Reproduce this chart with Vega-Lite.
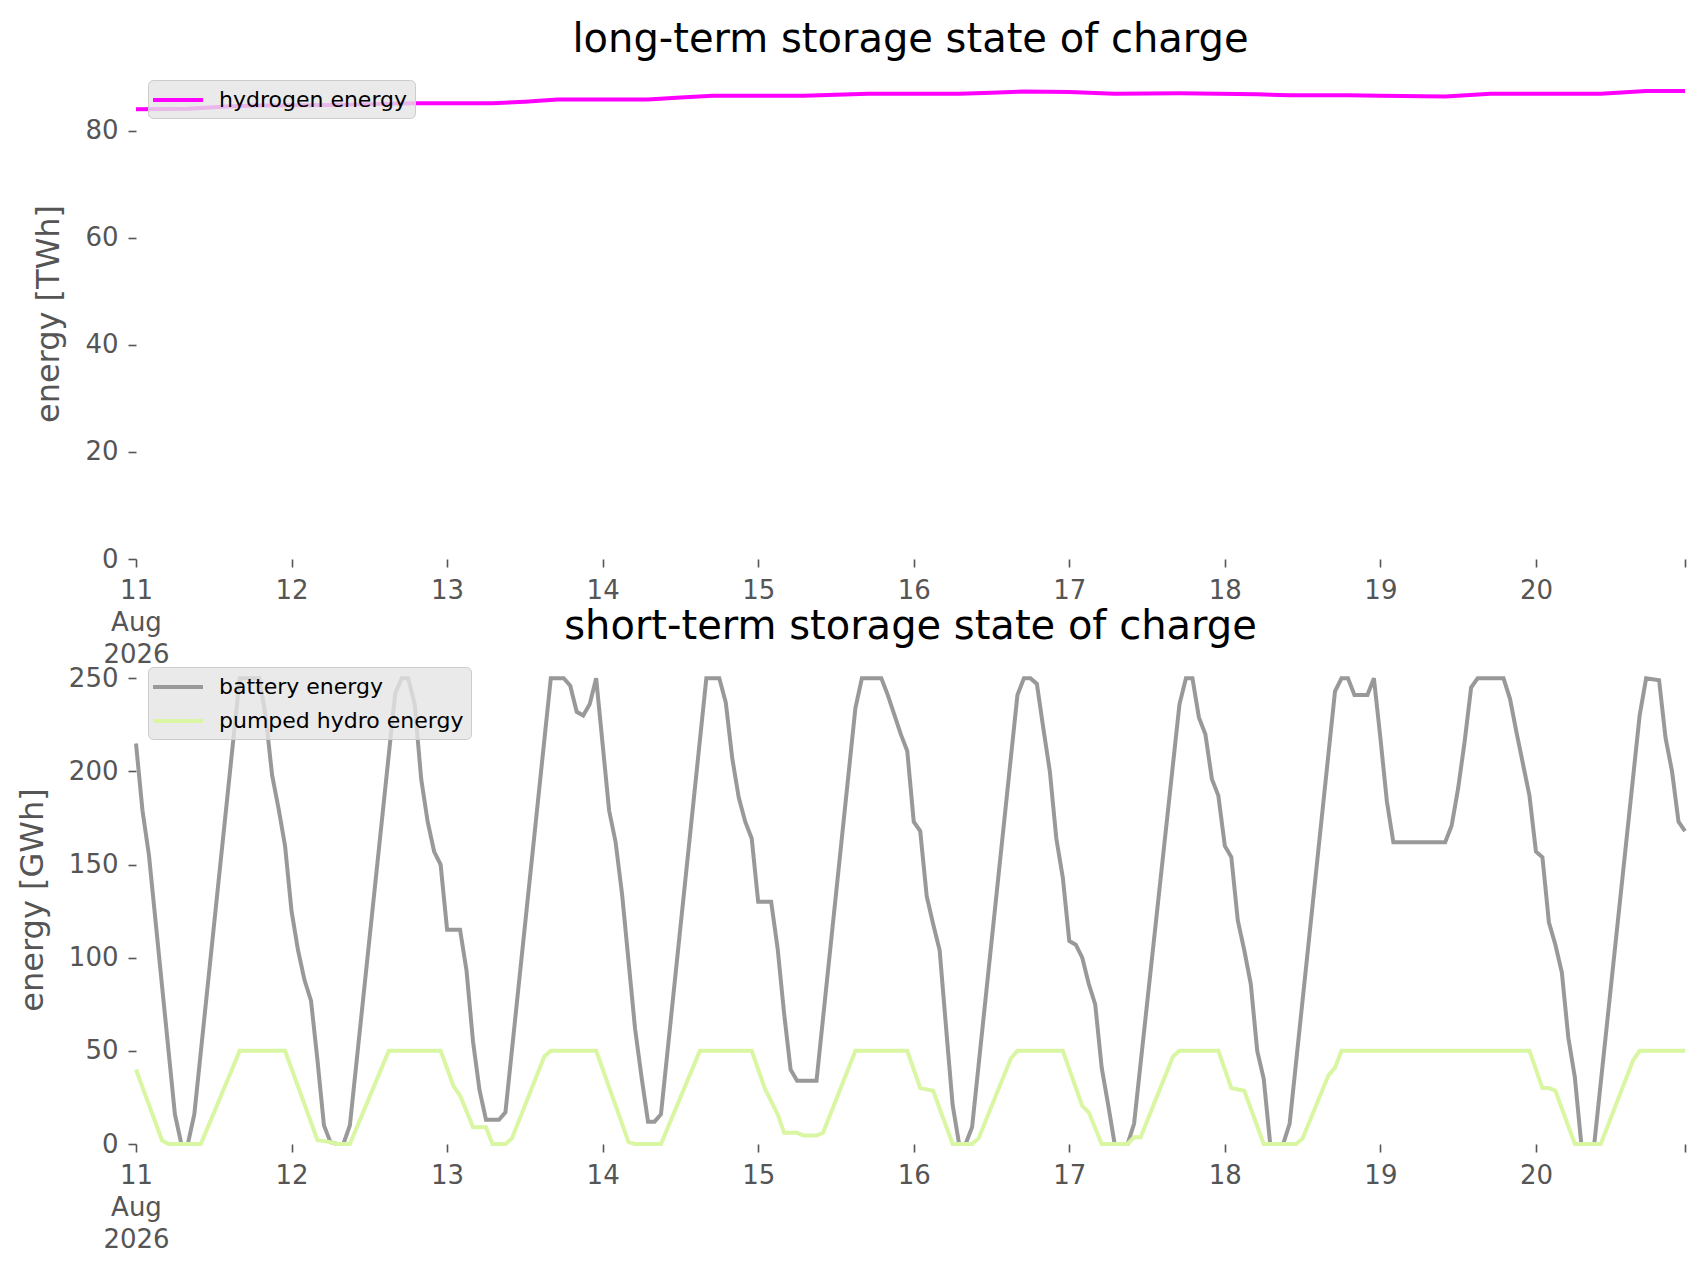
{
  "$schema": "https://vega.github.io/schema/vega-lite/v6.json",
  "background": "white",
  "padding": {"left": 16, "top": 20, "right": 0, "bottom": 0},
  "config": {
    "view": {"stroke": null},
    "font": "DejaVu Sans",
    "axis": {
      "labelFont": "DejaVu Sans", "labelFontSize": 26, "labelColor": "#555555",
      "titleFont": "DejaVu Sans", "titleFontSize": 32, "titleColor": "#555555", "titleFontWeight": "normal",
      "domain": false, "grid": false, "tickColor": "#555555", "tickSize": 8, "tickWidth": 1.6,
      "labelPadding": 10, "labelFlush": false, "labelOverlap": false
    },
    "title": {"font": "DejaVu Sans", "fontSize": 40, "fontWeight": "normal", "color": "#000000", "anchor": "middle", "offset": 8},
    "legend": {
      "title": null, "orient": "top-left", "offset": 12,
      "fillColor": "rgba(229,229,229,0.8)", "strokeColor": "#cccccc", "cornerRadius": 5, "padding": 7,
      "symbolType": "M-2.27,0H2.27", "symbolSize": 484, "symbolStrokeWidth": 4, "symbolOffset": 10,
      "labelFont": "DejaVu Sans", "labelFontSize": 22, "labelColor": "#000000", "labelOffset": 28,
      "rowPadding": 10, "labelLimit": 400
    }
  },
  "datasets": {
    "longterm": [
      {"time": "2026-08-11T00:00", "carrier": "hydrogen energy", "energy": 84.0},
      {"time": "2026-08-11T08:00", "carrier": "hydrogen energy", "energy": 84.1},
      {"time": "2026-08-11T14:00", "carrier": "hydrogen energy", "energy": 84.5},
      {"time": "2026-08-11T19:00", "carrier": "hydrogen energy", "energy": 84.7},
      {"time": "2026-08-12T07:00", "carrier": "hydrogen energy", "energy": 84.8},
      {"time": "2026-08-12T14:00", "carrier": "hydrogen energy", "energy": 85.0},
      {"time": "2026-08-12T19:00", "carrier": "hydrogen energy", "energy": 85.1},
      {"time": "2026-08-13T07:00", "carrier": "hydrogen energy", "energy": 85.1},
      {"time": "2026-08-13T12:00", "carrier": "hydrogen energy", "energy": 85.4},
      {"time": "2026-08-13T17:00", "carrier": "hydrogen energy", "energy": 85.8},
      {"time": "2026-08-14T07:00", "carrier": "hydrogen energy", "energy": 85.8},
      {"time": "2026-08-14T12:00", "carrier": "hydrogen energy", "energy": 86.2},
      {"time": "2026-08-14T17:00", "carrier": "hydrogen energy", "energy": 86.5},
      {"time": "2026-08-15T07:00", "carrier": "hydrogen energy", "energy": 86.5},
      {"time": "2026-08-15T12:00", "carrier": "hydrogen energy", "energy": 86.7},
      {"time": "2026-08-15T17:00", "carrier": "hydrogen energy", "energy": 86.9},
      {"time": "2026-08-16T07:00", "carrier": "hydrogen energy", "energy": 86.9},
      {"time": "2026-08-16T12:00", "carrier": "hydrogen energy", "energy": 87.1},
      {"time": "2026-08-16T17:00", "carrier": "hydrogen energy", "energy": 87.3},
      {"time": "2026-08-17T00:00", "carrier": "hydrogen energy", "energy": 87.2},
      {"time": "2026-08-17T07:00", "carrier": "hydrogen energy", "energy": 86.9},
      {"time": "2026-08-17T17:00", "carrier": "hydrogen energy", "energy": 87.0},
      {"time": "2026-08-18T05:00", "carrier": "hydrogen energy", "energy": 86.8},
      {"time": "2026-08-18T10:00", "carrier": "hydrogen energy", "energy": 86.6},
      {"time": "2026-08-18T19:00", "carrier": "hydrogen energy", "energy": 86.6},
      {"time": "2026-08-19T00:00", "carrier": "hydrogen energy", "energy": 86.5},
      {"time": "2026-08-19T10:00", "carrier": "hydrogen energy", "energy": 86.4},
      {"time": "2026-08-19T17:00", "carrier": "hydrogen energy", "energy": 86.9},
      {"time": "2026-08-20T10:00", "carrier": "hydrogen energy", "energy": 86.9},
      {"time": "2026-08-20T17:00", "carrier": "hydrogen energy", "energy": 87.4},
      {"time": "2026-08-20T23:00", "carrier": "hydrogen energy", "energy": 87.4}
    ],
    "shortterm": [
      {"time": "2026-08-11T00:00", "carrier": "battery energy", "energy": 215},
      {"time": "2026-08-11T01:00", "carrier": "battery energy", "energy": 179},
      {"time": "2026-08-11T02:00", "carrier": "battery energy", "energy": 155},
      {"time": "2026-08-11T06:00", "carrier": "battery energy", "energy": 16},
      {"time": "2026-08-11T07:00", "carrier": "battery energy", "energy": 0},
      {"time": "2026-08-11T08:00", "carrier": "battery energy", "energy": 0},
      {"time": "2026-08-11T09:00", "carrier": "battery energy", "energy": 16},
      {"time": "2026-08-11T16:00", "carrier": "battery energy", "energy": 250},
      {"time": "2026-08-11T19:00", "carrier": "battery energy", "energy": 250},
      {"time": "2026-08-11T20:00", "carrier": "battery energy", "energy": 230},
      {"time": "2026-08-11T21:00", "carrier": "battery energy", "energy": 198},
      {"time": "2026-08-11T22:00", "carrier": "battery energy", "energy": 180},
      {"time": "2026-08-11T23:00", "carrier": "battery energy", "energy": 160},
      {"time": "2026-08-12T00:00", "carrier": "battery energy", "energy": 125},
      {"time": "2026-08-12T01:00", "carrier": "battery energy", "energy": 104},
      {"time": "2026-08-12T02:00", "carrier": "battery energy", "energy": 88},
      {"time": "2026-08-12T03:00", "carrier": "battery energy", "energy": 77},
      {"time": "2026-08-12T04:00", "carrier": "battery energy", "energy": 45},
      {"time": "2026-08-12T05:00", "carrier": "battery energy", "energy": 10},
      {"time": "2026-08-12T06:00", "carrier": "battery energy", "energy": 1},
      {"time": "2026-08-12T07:00", "carrier": "battery energy", "energy": 0},
      {"time": "2026-08-12T08:00", "carrier": "battery energy", "energy": 0},
      {"time": "2026-08-12T09:00", "carrier": "battery energy", "energy": 10},
      {"time": "2026-08-12T16:00", "carrier": "battery energy", "energy": 242},
      {"time": "2026-08-12T17:00", "carrier": "battery energy", "energy": 250},
      {"time": "2026-08-12T18:00", "carrier": "battery energy", "energy": 250},
      {"time": "2026-08-12T19:00", "carrier": "battery energy", "energy": 236},
      {"time": "2026-08-12T20:00", "carrier": "battery energy", "energy": 196},
      {"time": "2026-08-12T21:00", "carrier": "battery energy", "energy": 173},
      {"time": "2026-08-12T22:00", "carrier": "battery energy", "energy": 157},
      {"time": "2026-08-12T23:00", "carrier": "battery energy", "energy": 150},
      {"time": "2026-08-13T00:00", "carrier": "battery energy", "energy": 115},
      {"time": "2026-08-13T02:00", "carrier": "battery energy", "energy": 115},
      {"time": "2026-08-13T03:00", "carrier": "battery energy", "energy": 93},
      {"time": "2026-08-13T04:00", "carrier": "battery energy", "energy": 55},
      {"time": "2026-08-13T05:00", "carrier": "battery energy", "energy": 29},
      {"time": "2026-08-13T06:00", "carrier": "battery energy", "energy": 13},
      {"time": "2026-08-13T08:00", "carrier": "battery energy", "energy": 13},
      {"time": "2026-08-13T09:00", "carrier": "battery energy", "energy": 17},
      {"time": "2026-08-13T16:00", "carrier": "battery energy", "energy": 250},
      {"time": "2026-08-13T18:00", "carrier": "battery energy", "energy": 250},
      {"time": "2026-08-13T19:00", "carrier": "battery energy", "energy": 246},
      {"time": "2026-08-13T20:00", "carrier": "battery energy", "energy": 232},
      {"time": "2026-08-13T21:00", "carrier": "battery energy", "energy": 230},
      {"time": "2026-08-13T22:00", "carrier": "battery energy", "energy": 236},
      {"time": "2026-08-13T23:00", "carrier": "battery energy", "energy": 250},
      {"time": "2026-08-14T01:00", "carrier": "battery energy", "energy": 179},
      {"time": "2026-08-14T02:00", "carrier": "battery energy", "energy": 162},
      {"time": "2026-08-14T03:00", "carrier": "battery energy", "energy": 134},
      {"time": "2026-08-14T04:00", "carrier": "battery energy", "energy": 98},
      {"time": "2026-08-14T05:00", "carrier": "battery energy", "energy": 62},
      {"time": "2026-08-14T06:00", "carrier": "battery energy", "energy": 36},
      {"time": "2026-08-14T07:00", "carrier": "battery energy", "energy": 12},
      {"time": "2026-08-14T08:00", "carrier": "battery energy", "energy": 12},
      {"time": "2026-08-14T09:00", "carrier": "battery energy", "energy": 16},
      {"time": "2026-08-14T16:00", "carrier": "battery energy", "energy": 250},
      {"time": "2026-08-14T18:00", "carrier": "battery energy", "energy": 250},
      {"time": "2026-08-14T19:00", "carrier": "battery energy", "energy": 237},
      {"time": "2026-08-14T20:00", "carrier": "battery energy", "energy": 207},
      {"time": "2026-08-14T21:00", "carrier": "battery energy", "energy": 186},
      {"time": "2026-08-14T22:00", "carrier": "battery energy", "energy": 173},
      {"time": "2026-08-14T23:00", "carrier": "battery energy", "energy": 164},
      {"time": "2026-08-15T00:00", "carrier": "battery energy", "energy": 130},
      {"time": "2026-08-15T02:00", "carrier": "battery energy", "energy": 130},
      {"time": "2026-08-15T03:00", "carrier": "battery energy", "energy": 105},
      {"time": "2026-08-15T04:00", "carrier": "battery energy", "energy": 70},
      {"time": "2026-08-15T05:00", "carrier": "battery energy", "energy": 40},
      {"time": "2026-08-15T06:00", "carrier": "battery energy", "energy": 34},
      {"time": "2026-08-15T09:00", "carrier": "battery energy", "energy": 34},
      {"time": "2026-08-15T15:00", "carrier": "battery energy", "energy": 234},
      {"time": "2026-08-15T16:00", "carrier": "battery energy", "energy": 250},
      {"time": "2026-08-15T19:00", "carrier": "battery energy", "energy": 250},
      {"time": "2026-08-15T20:00", "carrier": "battery energy", "energy": 241},
      {"time": "2026-08-15T22:00", "carrier": "battery energy", "energy": 220},
      {"time": "2026-08-15T23:00", "carrier": "battery energy", "energy": 211},
      {"time": "2026-08-16T00:00", "carrier": "battery energy", "energy": 173},
      {"time": "2026-08-16T01:00", "carrier": "battery energy", "energy": 168},
      {"time": "2026-08-16T02:00", "carrier": "battery energy", "energy": 133},
      {"time": "2026-08-16T03:00", "carrier": "battery energy", "energy": 118},
      {"time": "2026-08-16T04:00", "carrier": "battery energy", "energy": 104},
      {"time": "2026-08-16T05:00", "carrier": "battery energy", "energy": 62},
      {"time": "2026-08-16T06:00", "carrier": "battery energy", "energy": 21},
      {"time": "2026-08-16T07:00", "carrier": "battery energy", "energy": 0},
      {"time": "2026-08-16T08:00", "carrier": "battery energy", "energy": 0},
      {"time": "2026-08-16T09:00", "carrier": "battery energy", "energy": 9},
      {"time": "2026-08-16T16:00", "carrier": "battery energy", "energy": 241},
      {"time": "2026-08-16T17:00", "carrier": "battery energy", "energy": 250},
      {"time": "2026-08-16T18:00", "carrier": "battery energy", "energy": 250},
      {"time": "2026-08-16T19:00", "carrier": "battery energy", "energy": 247},
      {"time": "2026-08-16T20:00", "carrier": "battery energy", "energy": 223},
      {"time": "2026-08-16T21:00", "carrier": "battery energy", "energy": 200},
      {"time": "2026-08-16T22:00", "carrier": "battery energy", "energy": 164},
      {"time": "2026-08-16T23:00", "carrier": "battery energy", "energy": 143},
      {"time": "2026-08-17T00:00", "carrier": "battery energy", "energy": 109},
      {"time": "2026-08-17T01:00", "carrier": "battery energy", "energy": 107},
      {"time": "2026-08-17T02:00", "carrier": "battery energy", "energy": 100},
      {"time": "2026-08-17T03:00", "carrier": "battery energy", "energy": 86},
      {"time": "2026-08-17T04:00", "carrier": "battery energy", "energy": 75},
      {"time": "2026-08-17T05:00", "carrier": "battery energy", "energy": 41},
      {"time": "2026-08-17T06:00", "carrier": "battery energy", "energy": 21},
      {"time": "2026-08-17T07:00", "carrier": "battery energy", "energy": 0},
      {"time": "2026-08-17T09:00", "carrier": "battery energy", "energy": 0},
      {"time": "2026-08-17T10:00", "carrier": "battery energy", "energy": 11},
      {"time": "2026-08-17T17:00", "carrier": "battery energy", "energy": 236},
      {"time": "2026-08-17T18:00", "carrier": "battery energy", "energy": 250},
      {"time": "2026-08-17T19:00", "carrier": "battery energy", "energy": 250},
      {"time": "2026-08-17T20:00", "carrier": "battery energy", "energy": 229},
      {"time": "2026-08-17T21:00", "carrier": "battery energy", "energy": 220},
      {"time": "2026-08-17T22:00", "carrier": "battery energy", "energy": 196},
      {"time": "2026-08-17T23:00", "carrier": "battery energy", "energy": 187},
      {"time": "2026-08-18T00:00", "carrier": "battery energy", "energy": 160},
      {"time": "2026-08-18T01:00", "carrier": "battery energy", "energy": 154},
      {"time": "2026-08-18T02:00", "carrier": "battery energy", "energy": 120},
      {"time": "2026-08-18T03:00", "carrier": "battery energy", "energy": 104},
      {"time": "2026-08-18T04:00", "carrier": "battery energy", "energy": 86},
      {"time": "2026-08-18T05:00", "carrier": "battery energy", "energy": 50},
      {"time": "2026-08-18T06:00", "carrier": "battery energy", "energy": 35},
      {"time": "2026-08-18T07:00", "carrier": "battery energy", "energy": 0},
      {"time": "2026-08-18T09:00", "carrier": "battery energy", "energy": 0},
      {"time": "2026-08-18T10:00", "carrier": "battery energy", "energy": 11},
      {"time": "2026-08-18T17:00", "carrier": "battery energy", "energy": 243},
      {"time": "2026-08-18T18:00", "carrier": "battery energy", "energy": 250},
      {"time": "2026-08-18T19:00", "carrier": "battery energy", "energy": 250},
      {"time": "2026-08-18T20:00", "carrier": "battery energy", "energy": 241},
      {"time": "2026-08-18T22:00", "carrier": "battery energy", "energy": 241},
      {"time": "2026-08-18T23:00", "carrier": "battery energy", "energy": 250},
      {"time": "2026-08-19T00:00", "carrier": "battery energy", "energy": 218},
      {"time": "2026-08-19T01:00", "carrier": "battery energy", "energy": 184},
      {"time": "2026-08-19T02:00", "carrier": "battery energy", "energy": 162},
      {"time": "2026-08-19T10:00", "carrier": "battery energy", "energy": 162},
      {"time": "2026-08-19T11:00", "carrier": "battery energy", "energy": 171},
      {"time": "2026-08-19T12:00", "carrier": "battery energy", "energy": 191},
      {"time": "2026-08-19T13:00", "carrier": "battery energy", "energy": 216},
      {"time": "2026-08-19T14:00", "carrier": "battery energy", "energy": 245},
      {"time": "2026-08-19T15:00", "carrier": "battery energy", "energy": 250},
      {"time": "2026-08-19T19:00", "carrier": "battery energy", "energy": 250},
      {"time": "2026-08-19T20:00", "carrier": "battery energy", "energy": 239},
      {"time": "2026-08-19T21:00", "carrier": "battery energy", "energy": 221},
      {"time": "2026-08-19T22:00", "carrier": "battery energy", "energy": 204},
      {"time": "2026-08-19T23:00", "carrier": "battery energy", "energy": 187},
      {"time": "2026-08-20T00:00", "carrier": "battery energy", "energy": 157},
      {"time": "2026-08-20T01:00", "carrier": "battery energy", "energy": 154},
      {"time": "2026-08-20T02:00", "carrier": "battery energy", "energy": 119},
      {"time": "2026-08-20T03:00", "carrier": "battery energy", "energy": 107},
      {"time": "2026-08-20T04:00", "carrier": "battery energy", "energy": 92},
      {"time": "2026-08-20T05:00", "carrier": "battery energy", "energy": 57},
      {"time": "2026-08-20T06:00", "carrier": "battery energy", "energy": 36},
      {"time": "2026-08-20T07:00", "carrier": "battery energy", "energy": 0},
      {"time": "2026-08-20T09:00", "carrier": "battery energy", "energy": 0},
      {"time": "2026-08-20T16:00", "carrier": "battery energy", "energy": 230},
      {"time": "2026-08-20T17:00", "carrier": "battery energy", "energy": 250},
      {"time": "2026-08-20T19:00", "carrier": "battery energy", "energy": 249},
      {"time": "2026-08-20T20:00", "carrier": "battery energy", "energy": 218},
      {"time": "2026-08-20T21:00", "carrier": "battery energy", "energy": 200},
      {"time": "2026-08-20T22:00", "carrier": "battery energy", "energy": 173},
      {"time": "2026-08-20T23:00", "carrier": "battery energy", "energy": 168},
      {"time": "2026-08-11T00:00", "carrier": "pumped hydro energy", "energy": 40},
      {"time": "2026-08-11T04:00", "carrier": "pumped hydro energy", "energy": 2},
      {"time": "2026-08-11T05:00", "carrier": "pumped hydro energy", "energy": 0},
      {"time": "2026-08-11T10:00", "carrier": "pumped hydro energy", "energy": 0},
      {"time": "2026-08-11T16:00", "carrier": "pumped hydro energy", "energy": 50},
      {"time": "2026-08-11T23:00", "carrier": "pumped hydro energy", "energy": 50},
      {"time": "2026-08-12T04:00", "carrier": "pumped hydro energy", "energy": 2},
      {"time": "2026-08-12T06:00", "carrier": "pumped hydro energy", "energy": 1},
      {"time": "2026-08-12T07:00", "carrier": "pumped hydro energy", "energy": 0},
      {"time": "2026-08-12T09:00", "carrier": "pumped hydro energy", "energy": 0},
      {"time": "2026-08-12T15:00", "carrier": "pumped hydro energy", "energy": 50},
      {"time": "2026-08-12T23:00", "carrier": "pumped hydro energy", "energy": 50},
      {"time": "2026-08-13T01:00", "carrier": "pumped hydro energy", "energy": 31},
      {"time": "2026-08-13T02:00", "carrier": "pumped hydro energy", "energy": 26},
      {"time": "2026-08-13T04:00", "carrier": "pumped hydro energy", "energy": 9},
      {"time": "2026-08-13T06:00", "carrier": "pumped hydro energy", "energy": 9},
      {"time": "2026-08-13T07:00", "carrier": "pumped hydro energy", "energy": 0},
      {"time": "2026-08-13T09:00", "carrier": "pumped hydro energy", "energy": 0},
      {"time": "2026-08-13T10:00", "carrier": "pumped hydro energy", "energy": 3},
      {"time": "2026-08-13T15:00", "carrier": "pumped hydro energy", "energy": 47},
      {"time": "2026-08-13T16:00", "carrier": "pumped hydro energy", "energy": 50},
      {"time": "2026-08-13T23:00", "carrier": "pumped hydro energy", "energy": 50},
      {"time": "2026-08-14T04:00", "carrier": "pumped hydro energy", "energy": 1},
      {"time": "2026-08-14T05:00", "carrier": "pumped hydro energy", "energy": 0},
      {"time": "2026-08-14T09:00", "carrier": "pumped hydro energy", "energy": 0},
      {"time": "2026-08-14T15:00", "carrier": "pumped hydro energy", "energy": 50},
      {"time": "2026-08-14T23:00", "carrier": "pumped hydro energy", "energy": 50},
      {"time": "2026-08-15T01:00", "carrier": "pumped hydro energy", "energy": 30},
      {"time": "2026-08-15T03:00", "carrier": "pumped hydro energy", "energy": 16},
      {"time": "2026-08-15T04:00", "carrier": "pumped hydro energy", "energy": 6},
      {"time": "2026-08-15T06:00", "carrier": "pumped hydro energy", "energy": 6},
      {"time": "2026-08-15T07:00", "carrier": "pumped hydro energy", "energy": 4.5},
      {"time": "2026-08-15T09:00", "carrier": "pumped hydro energy", "energy": 4.5},
      {"time": "2026-08-15T10:00", "carrier": "pumped hydro energy", "energy": 6},
      {"time": "2026-08-15T15:00", "carrier": "pumped hydro energy", "energy": 50},
      {"time": "2026-08-15T23:00", "carrier": "pumped hydro energy", "energy": 50},
      {"time": "2026-08-16T01:00", "carrier": "pumped hydro energy", "energy": 30},
      {"time": "2026-08-16T03:00", "carrier": "pumped hydro energy", "energy": 28.6},
      {"time": "2026-08-16T06:00", "carrier": "pumped hydro energy", "energy": 0},
      {"time": "2026-08-16T09:00", "carrier": "pumped hydro energy", "energy": 0},
      {"time": "2026-08-16T10:00", "carrier": "pumped hydro energy", "energy": 3},
      {"time": "2026-08-16T15:00", "carrier": "pumped hydro energy", "energy": 46},
      {"time": "2026-08-16T16:00", "carrier": "pumped hydro energy", "energy": 50},
      {"time": "2026-08-16T23:00", "carrier": "pumped hydro energy", "energy": 50},
      {"time": "2026-08-17T02:00", "carrier": "pumped hydro energy", "energy": 20.5},
      {"time": "2026-08-17T03:00", "carrier": "pumped hydro energy", "energy": 17},
      {"time": "2026-08-17T05:00", "carrier": "pumped hydro energy", "energy": 0},
      {"time": "2026-08-17T09:00", "carrier": "pumped hydro energy", "energy": 0},
      {"time": "2026-08-17T10:00", "carrier": "pumped hydro energy", "energy": 3.6},
      {"time": "2026-08-17T11:00", "carrier": "pumped hydro energy", "energy": 3.6},
      {"time": "2026-08-17T16:00", "carrier": "pumped hydro energy", "energy": 47},
      {"time": "2026-08-17T17:00", "carrier": "pumped hydro energy", "energy": 50},
      {"time": "2026-08-17T23:00", "carrier": "pumped hydro energy", "energy": 50},
      {"time": "2026-08-18T01:00", "carrier": "pumped hydro energy", "energy": 30},
      {"time": "2026-08-18T03:00", "carrier": "pumped hydro energy", "energy": 28.6},
      {"time": "2026-08-18T06:00", "carrier": "pumped hydro energy", "energy": 0},
      {"time": "2026-08-18T11:00", "carrier": "pumped hydro energy", "energy": 0},
      {"time": "2026-08-18T12:00", "carrier": "pumped hydro energy", "energy": 3},
      {"time": "2026-08-18T16:00", "carrier": "pumped hydro energy", "energy": 37},
      {"time": "2026-08-18T17:00", "carrier": "pumped hydro energy", "energy": 41},
      {"time": "2026-08-18T18:00", "carrier": "pumped hydro energy", "energy": 50},
      {"time": "2026-08-19T23:00", "carrier": "pumped hydro energy", "energy": 50},
      {"time": "2026-08-20T01:00", "carrier": "pumped hydro energy", "energy": 30},
      {"time": "2026-08-20T02:00", "carrier": "pumped hydro energy", "energy": 30},
      {"time": "2026-08-20T03:00", "carrier": "pumped hydro energy", "energy": 28.6},
      {"time": "2026-08-20T06:00", "carrier": "pumped hydro energy", "energy": 0},
      {"time": "2026-08-20T10:00", "carrier": "pumped hydro energy", "energy": 0},
      {"time": "2026-08-20T15:00", "carrier": "pumped hydro energy", "energy": 45},
      {"time": "2026-08-20T16:00", "carrier": "pumped hydro energy", "energy": 50},
      {"time": "2026-08-20T23:00", "carrier": "pumped hydro energy", "energy": 50}
    ]
  },
  "resolve": {"scale": {"color": "independent"}, "legend": {"color": "independent"}},
  "bounds": "flush",
  "align": "all",
  "spacing": 96,
  "vconcat": [
    {
      "title": "long-term storage state of charge",
      "width": 1549,
      "height": 491,
      "data": {"name": "longterm"},
      "mark": {"type": "line", "strokeWidth": 4},
      "encoding": {
        "x": {
          "field": "time", "type": "temporal",
          "scale": {"domain": [{"year": 2026, "month": 8, "date": 11}, {"year": 2026, "month": 8, "date": 20, "hours": 23}]},
          "axis": {
            "title": null, "labelLineHeight": 32,
            "values": [
              {"year": 2026, "month": 8, "date": 11}, {"year": 2026, "month": 8, "date": 12}, {"year": 2026, "month": 8, "date": 13},
              {"year": 2026, "month": 8, "date": 14}, {"year": 2026, "month": 8, "date": 15}, {"year": 2026, "month": 8, "date": 16},
              {"year": 2026, "month": 8, "date": 17}, {"year": 2026, "month": 8, "date": 18}, {"year": 2026, "month": 8, "date": 19},
              {"year": 2026, "month": 8, "date": 20}, {"year": 2026, "month": 8, "date": 20, "hours": 23}
            ],
            "labelExpr": "timeFormat(datum.value, '%H') == '23' ? '' : (timeFormat(datum.value, '%d') == '11' ? ['11', 'Aug', '2026'] : timeFormat(datum.value, '%-d'))"
          }
        },
        "y": {
          "field": "energy", "type": "quantitative",
          "scale": {"domain": [0, 91.7], "nice": false, "zero": true},
          "axis": {"title": "energy [TWh]", "values": [0, 20, 40, 60, 80], "titlePadding": 19}
        },
        "color": {
          "field": "carrier", "type": "nominal",
          "scale": {"domain": ["hydrogen energy"], "range": ["#ff00ff"]}
        }
      }
    },
    {
      "title": "short-term storage state of charge",
      "width": 1549,
      "height": 489,
      "data": {"name": "shortterm"},
      "mark": {"type": "line", "strokeWidth": 4},
      "encoding": {
        "x": {
          "field": "time", "type": "temporal",
          "scale": {"domain": [{"year": 2026, "month": 8, "date": 11}, {"year": 2026, "month": 8, "date": 20, "hours": 23}]},
          "axis": {
            "title": null, "labelLineHeight": 32,
            "values": [
              {"year": 2026, "month": 8, "date": 11}, {"year": 2026, "month": 8, "date": 12}, {"year": 2026, "month": 8, "date": 13},
              {"year": 2026, "month": 8, "date": 14}, {"year": 2026, "month": 8, "date": 15}, {"year": 2026, "month": 8, "date": 16},
              {"year": 2026, "month": 8, "date": 17}, {"year": 2026, "month": 8, "date": 18}, {"year": 2026, "month": 8, "date": 19},
              {"year": 2026, "month": 8, "date": 20}, {"year": 2026, "month": 8, "date": 20, "hours": 23}
            ],
            "labelExpr": "timeFormat(datum.value, '%H') == '23' ? '' : (timeFormat(datum.value, '%d') == '11' ? ['11', 'Aug', '2026'] : timeFormat(datum.value, '%-d'))"
          }
        },
        "y": {
          "field": "energy", "type": "quantitative",
          "scale": {"domain": [0, 262.5], "nice": false},
          "axis": {"title": "energy [GWh]", "values": [0, 50, 100, 150, 200, 250], "titlePadding": 19}
        },
        "color": {
          "field": "carrier", "type": "nominal",
          "scale": {"domain": ["battery energy", "pumped hydro energy"], "range": ["#999999", "#d9f6a2"]}
        }
      }
    }
  ]
}
